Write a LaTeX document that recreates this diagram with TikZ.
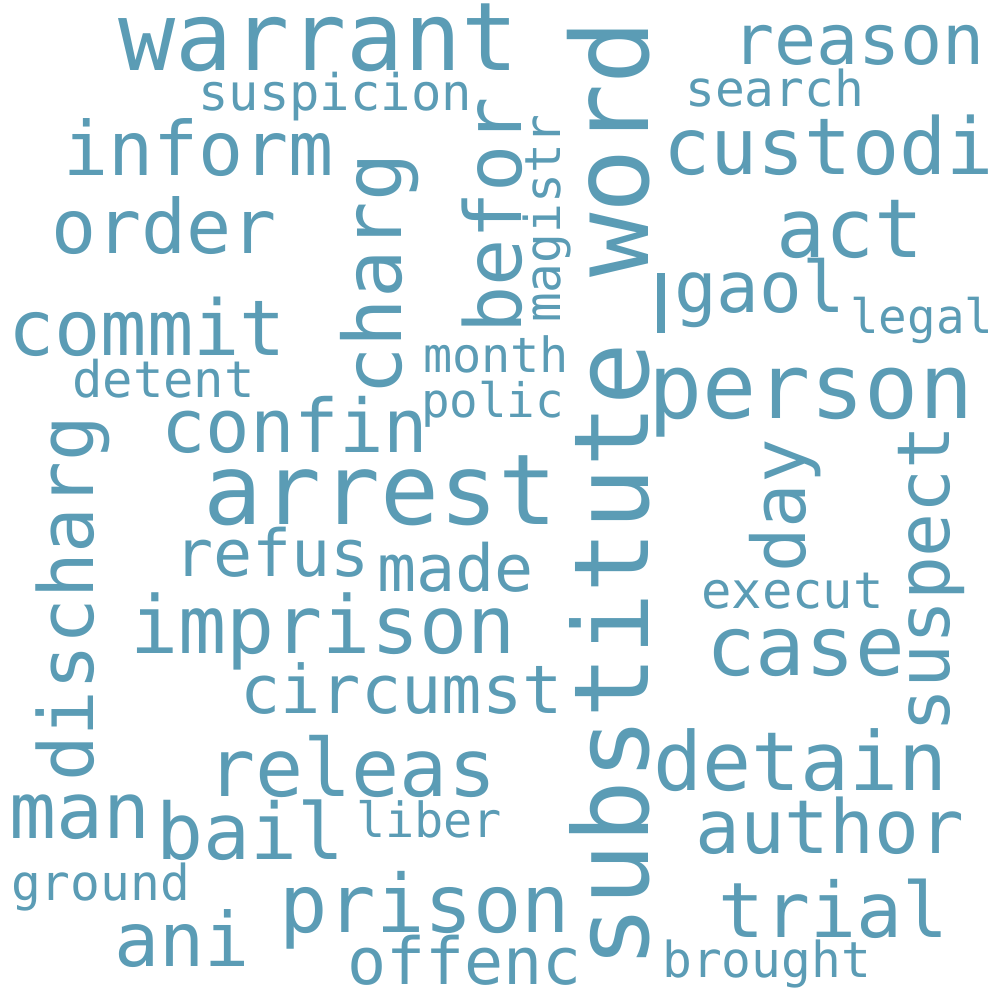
\documentclass[tikz,border=0pt]{standalone}
\usepackage{fontspec}
\newfontfamily\cloudfont{DejaVu Sans Mono}
\definecolor{wcblue}{RGB}{91,156,181}
\begin{document}
\begin{tikzpicture}[x=1pt,y=-1pt,
	wd/.style={inner sep=0pt,anchor=base west,text=wcblue},
	sz/.style={font=\cloudfont\fontsize{#1}{#1}\selectfont},
	up/.style={rotate=90}]
		\useasboundingbox (0,0) rectangle (1000,1000);
		%横排词
		\draw (118,71) node[wd,sz=95](w-warrant){warrant} (198,111) node[wd,sz=50.5](w-suspicion){suspicion};
		\draw (63,176) node[wd,sz=75](w-inform){inform} (51,253) node[wd,sz=75](w-order){order};
		\draw (8,355) node[wd,sz=77](w-commit){commit} (72,397) node[wd,sz=50.5](w-detent){detent};
		\draw (161,452) node[wd,sz=74](w-confin){confin} (203,524) node[wd,sz=98](w-arrest){arrest};
		\draw (174,576) node[wd,sz=65](w-refus){refus} (377,591) node[wd,sz=65](w-made){made};
		\draw (130,653) node[wd,sz=80](w-imprison){imprison} (240,713) node[wd,sz=67](w-circumst){circumst};
		\draw (423,372) node[wd,sz=48.5](w-month){month} (421,417) node[wd,sz=47.5](w-polic){polic};
		\draw (207,796) node[wd,sz=80](w-releas){releas} (9,838) node[wd,sz=78](w-man){man};
		\draw (156,859) node[wd,sz=78](w-bail){bail} (356,837) node[wd,sz=48.5](w-liber){liber};
		\draw (11,900) node[wd,sz=49.5](w-ground){ground} (114,966) node[wd,sz=75](w-ani){ani};
		\draw (279,932) node[wd,sz=80.5](w-prison){prison} (347,984) node[wd,sz=65](w-offenc){offenc};
		\draw (732,65) node[wd,sz=70](w-reason){reason} (685,107) node[wd,sz=49.5](w-search){search};
		\draw (663,175) node[wd,sz=78.5](w-custodi){custodi} (776,257) node[wd,sz=81.5](w-act){act};
		\draw (674,312) node[wd,sz=71](w-gaol){gaol} (850,333) node[wd,sz=47.5](w-legal){legal};
		\draw (648,418) node[wd,sz=90](w-person){person} (701,608) node[wd,sz=50.5](w-execut){execut};
		\draw (706,675) node[wd,sz=82.5](w-case){case} (653,790) node[wd,sz=81.5](w-detain){detain};
		\draw (695,853) node[wd,sz=74.5](w-author){author} (718,937) node[wd,sz=76.5](w-trial){trial};
		\draw (662,977) node[wd,sz=49.5](w-brought){brought};
		%竖排词
		\draw (401,396) node[wd,up,sz=80.5](w-charg){charg} (521,334) node[wd,up,sz=78.5](w-befor){befor};
		\draw (560,323) node[wd,up,sz=49.5](w-magistr){magistr} (648,278) node[wd,up,sz=107](w-word){word};
		\draw (648,969) node[wd,up,sz=104](w-substitute){substitute} (93,782) node[wd,up,sz=76](w-discharg){discharg};
		\draw (805,573) node[wd,up,sz=74](w-day){day} (949,733) node[wd,up,sz=73](w-suspect){suspect};
		\fill[wcblue] (657,273) rectangle (665,333);
	\end{tikzpicture}
\end{document}
